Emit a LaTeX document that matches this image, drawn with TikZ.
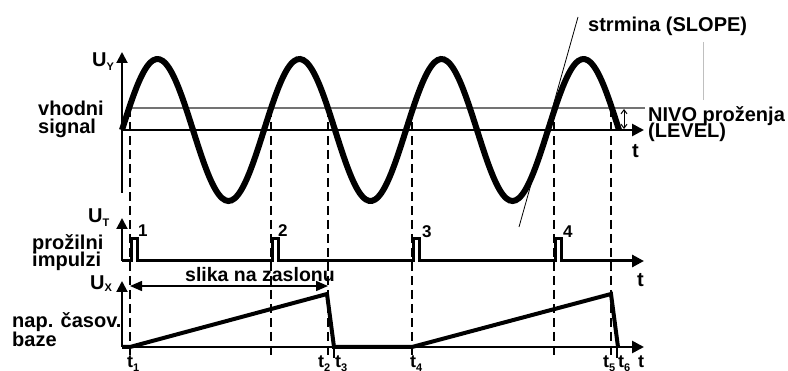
\documentclass[tikz,border=0pt]{standalone}
\usepackage{fontspec}
\setmainfont{Liberation Sans}
\usetikzlibrary{arrows.meta}
\newcommand{\sbs}[1]{\raisebox{-4pt}{\fontsize{11}{11}\selectfont #1}}
\newcommand{\twoline}[3]{\vtop{\baselineskip=#3\lineskiplimit=-100pt\lineskip=0pt\hbox{#1}\hbox{#2}}}
\begin{document}
\begin{tikzpicture}[x=1pt,y=-1pt,
  lbl/.style={inner sep=0pt, anchor=base west, font=\fontsize{20}{20}\selectfont\bfseries},
  num/.style={inner sep=0pt, anchor=base west, font=\fontsize{17}{17}\selectfont\bfseries},
  tlbl/.style={inner sep=0pt, anchor=base west, font=\fontsize{18}{18}\selectfont\bfseries},
  vaxis/.style={line width=2pt, -{Triangle[length=11pt,width=11pt]}},
  taxis/.style={line width=2.6pt, -{Triangle[length=12pt,width=12pt]}},
  sig/.style={line width=6pt},
  ramp/.style={line width=4pt, line join=miter},
  pulse/.style={line width=3pt, line join=miter, -{Triangle[length=12pt,width=12pt]}},
  dashv/.style={line width=2.4pt, dash pattern=on 9pt off 5pt},
  lvl/.style={line width=1.6pt, color=black!55},
  thinl/.style={line width=0.8pt},
  tickl/.style={line width=1.4pt}]
\useasboundingbox (0,0) rectangle (788,371);

% ---------- coordinates ----------
\coordinate (y0) at (122,193);
\coordinate (ytop) at (122,52);
\coordinate (o1) at (122,130);
\coordinate (e1) at (644,130);
\coordinate (ls) at (128,108);
\coordinate (le) at (645,108);
\coordinate (o2) at (122,261);
\coordinate (ttop) at (122,218);
\coordinate (e2) at (644,261);
\coordinate (o3) at (122,347);
\coordinate (xtop) at (122,281);
\coordinate (e3) at (644,347);

% ---------- top graph ----------
\draw[lvl] (ls) -- (le);
\draw[vaxis] (y0) -- (ytop);
\draw[taxis] (o1) -- (e1);
\draw[sig] plot[domain=0:497,samples=160,smooth] ({122+\x},{130-71*sin(2.53521*\x)});

% level arrow
\coordinate (la) at (624,109);
\coordinate (lb) at (624,129);
\draw[line width=1pt, {Straight Barb[length=4pt,width=6pt]}-{Straight Barb[length=4pt,width=6pt]}] (la) -- (lb);

% slope line and grey leader
\coordinate (s1) at (578,17);
\coordinate (s2) at (519,227);
\draw[thinl] (s1) -- (s2);
\coordinate (g1) at (703,42);
\coordinate (g2) at (703,100);
\draw[thinl, black!25] (g1) -- (g2);

% dashed verticals
\foreach \xx/\nm in {130/d1,271/d2,328/d3,412/d4,554/d5,611/d6}{
  \coordinate (\nm a) at (\xx,108);
  \coordinate (\nm b) at (\xx,358);
  \draw[dashv] (\nm a) -- (\nm b);
}

% ---------- pulse graph ----------
\draw[vaxis] (o2) -- (ttop);
\draw[pulse] (o2) -- (131,261) -- (131,239) -- (137,239) -- (137,261)
  -- (272,261) -- (272,239) -- (278,239) -- (278,261)
  -- (413,261) -- (413,239) -- (419,239) -- (419,261)
  -- (555,261) -- (555,239) -- (561,239) -- (561,261) -- (e2);

% ---------- ramp graph ----------
\draw[vaxis] (o3) -- (xtop);
\draw[taxis] (o3) -- (e3);
\draw[ramp] (o3) -- (130,347) -- (327,294) -- (334,347) -- (412,347) -- (611,294) -- (618,347);
\coordinate (k1a) at (334,347);
\coordinate (k1b) at (334,358);
\coordinate (k2a) at (617,347);
\coordinate (k2b) at (617,358);
\draw[tickl] (k1a) -- (k1b);
\draw[tickl] (k2a) -- (k2b);

% screen arrow
\coordinate (sa) at (130,286);
\coordinate (sb) at (328,286);
\draw[line width=1.5pt, {Triangle[length=12pt,width=10pt]}-{Triangle[length=12pt,width=10pt]}] (sa) -- (sb);

% ---------- labels ----------
\node[lbl] (uy) at (92,67) {U\sbs{Y}};
\node[lbl] (vh) at (38,116) {\twoline{vhodni}{signal}{18pt}};
\node[lbl] (slope) at (588,32) {strmina (SLOPE)};
\node[lbl] (nivo) at (648,122) {\twoline{NIVO proženja}{(LEVEL)}{16pt}};
\node[lbl] (t1lab) at (632,158) {t};

\node[lbl] (ut) at (88,223) {U\sbs{T}};
\node[lbl] (pr) at (32,250) {\twoline{prožilni}{impulzi}{17pt}};
\node[num] (n1) at (138,237) {1};
\node[num] (n2) at (278,237) {2};
\node[num] (n3) at (422,238) {3};
\node[num] (n4) at (563,238) {4};
\node[lbl] (t2lab) at (637,287) {t};

\node[inner sep=0pt, anchor=base west, font=\fontsize{19.5}{19.5}\selectfont\bfseries] (sl) at (185,282) {slika na zaslonu};
\node[lbl] (ux) at (90,290) {U\raisebox{-2pt}{\fontsize{11}{11}\selectfont X}};
\node[lbl] (np) at (12,328) {\twoline{nap. časov.}{baze}{19pt}};

\node[tlbl] (tt1) at (127,368) {t\sbs{1}};
\node[tlbl] (tt2) at (318,368) {t\sbs{2}};
\node[tlbl] (tt3) at (335,368) {t\sbs{3}};
\node[tlbl] (tt4) at (410,368) {t\sbs{4}};
\node[tlbl] (tt5) at (603,368) {t\sbs{5}};
\node[tlbl] (tt6) at (618,368) {t\sbs{6}};
\node[tlbl] (tt7) at (638,368) {t};
\end{tikzpicture}
\end{document}
